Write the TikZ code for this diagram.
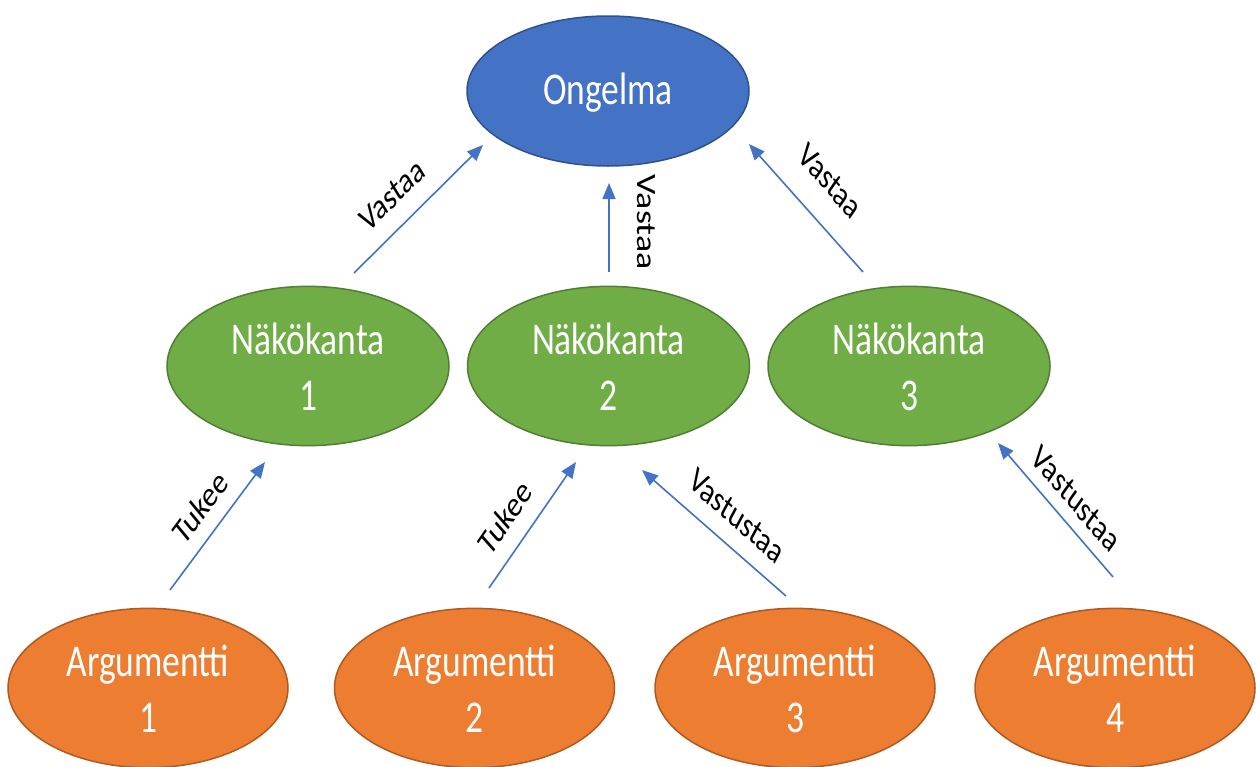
\documentclass[tikz,border=0pt]{standalone}
\usepackage{fontspec}
\setmainfont{Carlito}
\usepackage{graphicx}
\usetikzlibrary{shapes.geometric,arrows.meta}
\definecolor{cblue}{HTML}{4472C4}
\definecolor{cblueb}{HTML}{2F528F}
\definecolor{cgreen}{HTML}{70AD47}
\definecolor{cgreenb}{HTML}{507E32}
\definecolor{corange}{HTML}{ED7D31}
\definecolor{corangeb}{HTML}{AE5A21}
\newcommand\vsc[1]{\scalebox{1}[1.28]{#1}}
\newcommand\twol[2]{\raisebox{-5pt}[\height][\depth]{\vsc{\begin{tabular}{@{}c@{}}#1\\#2\end{tabular}}}}
\newcommand\onel[1]{\raisebox{-2pt}[\height][\depth]{\vsc{#1}}}
\newcommand\lbl[2]{\vsc{\rotatebox{#1}{#2}}}
\begin{document}
\begin{tikzpicture}[x=1pt,y=-1pt,
  ell/.style={ellipse, minimum width=282pt, minimum height=154pt, inner sep=0pt,
    line width=1.5pt, text=white, font=\fontsize{35.5}{44}\selectfont},
  topell/.style={ell, fill=cblue, draw=cblueb, minimum height=150pt},
  midell/.style={ell, fill=cgreen, draw=cgreenb},
  botell/.style={ell, fill=corange, draw=corangeb, minimum width=280pt},
  conn/.style={draw=cblue, line width=1.6pt, -{Triangle[length=16pt,width=13pt]}},
  lab/.style={inner sep=0pt, text=black, font=\fontsize{28}{34}\selectfont}]
\useasboundingbox (0,0) rectangle (1256,766);
% nodes
\node[topell] (ong) at (608,91) {\onel{Ongelma}};
\node[midell] (n1) at (308,366) {\twol{Näkökanta}{1}};
\node[midell] (n2) at (608.5,366) {\twol{Näkökanta}{2}};
\node[midell] (n3) at (909,366) {\twol{Näkökanta}{3}};
\node[botell] (a1) at (148,688) {\twol{Argumentti}{1}};
\node[botell] (a2) at (474.5,688) {\twol{Argumentti}{2}};
\node[botell] (a3) at (795,688) {\twol{Argumentti}{3}};
\node[botell] (a4) at (1115,688) {\twol{Argumentti}{4}};
% connector end points
\coordinate (t1) at (354,273);  \coordinate (h1) at (483,145);
\coordinate (t2) at (609,272);  \coordinate (h2) at (609,183);
\coordinate (t3) at (863,272);  \coordinate (h3) at (749,144);
\coordinate (t4) at (170,590);  \coordinate (h4) at (265,462);
\coordinate (t5) at (489,588);  \coordinate (h5) at (576,462);
\coordinate (t6) at (786,596);  \coordinate (h6) at (642,470);
\coordinate (t7) at (1113,577); \coordinate (h7) at (998,443);
% connectors
\draw[conn] (t1) -- (h1);
\draw[conn] (t2) -- (h2);
\draw[conn] (t3) -- (h3);
\draw[conn] (t4) -- (h4);
\draw[conn] (t5) -- (h5);
\draw[conn] (t6) -- (h6);
\draw[conn] (t7) -- (h7);
% labels
\node[lab] (l1) at (392,195) {\lbl{38}{Vastaa}};
\node[lab] (l2) at (646,222) {\lbl{-90}{Vastaa}};
\node[lab] (l3) at (830,181) {\lbl{-41.5}{Vastaa}};
\node[lab] (l4) at (200,507) {\lbl{46.7}{Tukee}};
\node[lab] (l5) at (505,517) {\lbl{48.7}{Tukee}};
\node[lab] (l6) at (737,516) {\lbl{-34.6}{Vastustaa}};
\node[lab] (l7) at (1076,499) {\lbl{-42.3}{Vastustaa}};
\end{tikzpicture}
\end{document}
